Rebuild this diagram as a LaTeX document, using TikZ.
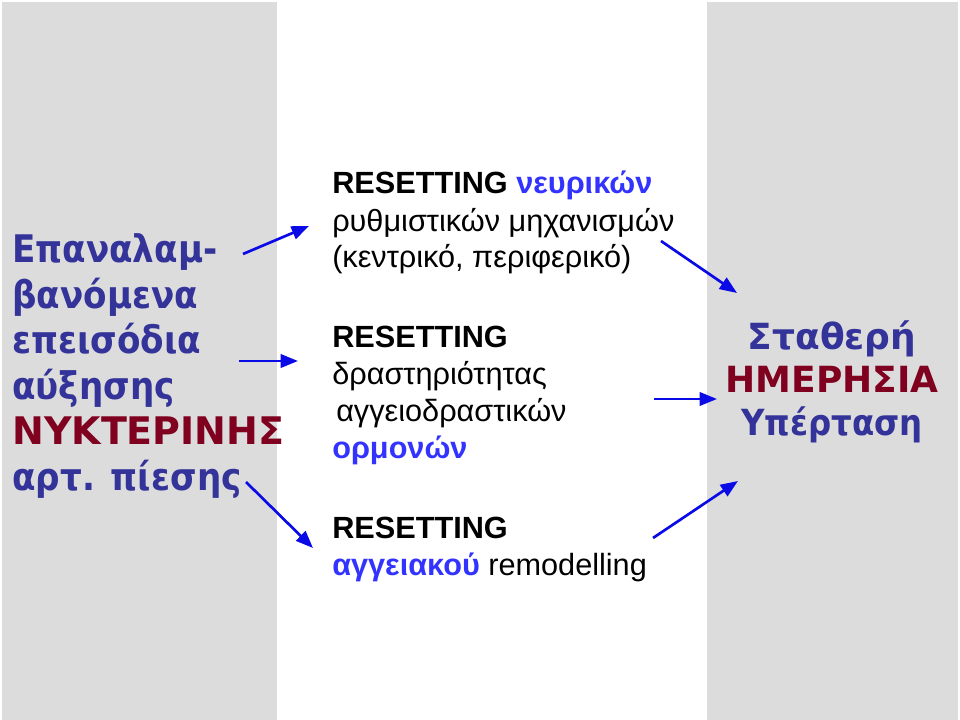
\documentclass[tikz,border=0pt]{standalone}
\usepackage{fontspec}
\setmainfont{Liberation Sans}
\newfontfamily\vfont{DejaVu Sans}
\newfontfamily\vtight[FakeStretch=0.9]{DejaVu Sans}
\usetikzlibrary{arrows.meta,positioning}
\definecolor{slate}{RGB}{51,51,153}
\definecolor{wine}{RGB}{128,0,32}
\definecolor{vivid}{RGB}{51,51,255}
\definecolor{panel}{RGB}{220,220,220}
\definecolor{arr}{RGB}{10,10,230}
\tikzset{pan/.style={fill=panel,draw=none},
 big/.style={font=\vtight\bfseries\fontsize{28.5}{34.1}\selectfont,text=slate,align=left,inner sep=0pt,anchor=base west},
 res/.style={font=\vfont\bfseries\fontsize{27}{32.25}\selectfont,text=slate,align=center,inner sep=0pt,anchor=base},
 mid/.style={font=\fontsize{23}{27.75}\selectfont,align=left,inner sep=0pt,anchor=base west},
 flow/.style={-{Triangle[length=13pt,width=10pt]},draw=arr,line width=2pt}}
\begin{document}
\begin{tikzpicture}[x=0.75pt,y=-0.75pt]
\useasboundingbox (0,0) rectangle (960,720);
\fill[pan] (2,2) rectangle (277,720);
\fill[pan] (707,2) rectangle (958,720);
% left and right panels (anchored at last baseline)
\node[big](cause) at (12,490){Επαναλαμ-\\βανόμενα\\επεισόδια\\αύξησης\\\textcolor{wine}{\vfont ΝΥΚΤΕΡΙΝΗΣ}\\αρτ. πίεσης};
\node[res](effect) at (832,435){Σταθερή\\\textcolor{wine}{ΗΜΕΡΗΣΙΑ}\\{\vtight Υπέρταση}};
% the three resettings
\node[mid](nerv) at (332,268){\textbf{RESETTING} \textcolor{vivid}{\textbf{νευρικών}}\\ρυθμιστικών μηχανισμών\\(κεντρικό, περιφερικό)};
\node[mid](horm) at (332,458){\textbf{RESETTING}\\δραστηριότητας\\\hspace{3pt}αγγειοδραστικών\\\textcolor{vivid}{\textbf{ορμονών}}};
\node[mid](vasc) at (332,575){\textbf{RESETTING}\\\textcolor{vivid}{\textbf{αγγειακού}} remodelling};
\coordinate(c1) at (243,254);\coordinate(n1) at (309,226);
\coordinate(c2) at (239,361);\coordinate(h1) at (298,361);
\coordinate(c3) at (246,482);\coordinate(v1) at (313,548);
\coordinate(n2) at (661,241);\coordinate(e1) at (737,293);
\coordinate(h2) at (654,399);\coordinate(e2) at (717,399);
\coordinate(v2) at (653,538);\coordinate(e3) at (738,481);
\draw[flow](c1)--(n1);\draw[flow](c2)--(h1);\draw[flow](c3)--(v1);
\draw[flow](n2)--(e1);\draw[flow](h2)--(e2);\draw[flow](v2)--(e3);
\end{tikzpicture}
\end{document}
